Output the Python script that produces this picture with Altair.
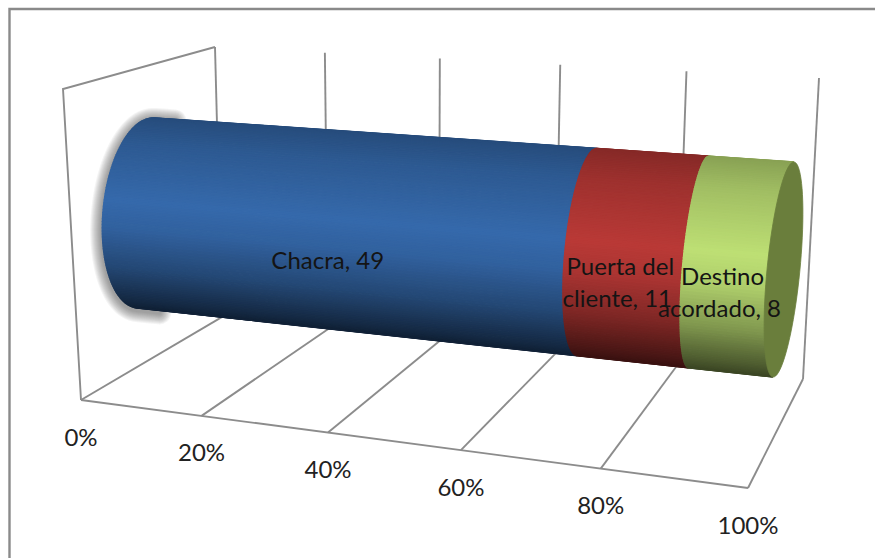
import altair as alt
import numpy as np
import pandas as pd

# Stacked 100% cylinder: category, count and colour of each segment
categories = ["Chacra", "Puerta del cliente", "Destino acordado"]
counts = [49, 11, 8]
label_lines = [["Chacra, 49"], ["Puerta del", "cliente, 11"], ["Destino", "acordado, 8"]]
segment_rgb = [(54, 106, 172), (186, 58, 55), (190, 224, 117)]
cap_rgb = (106, 126, 60)
tick_percents = [0, 20, 40, 60, 80, 100]
tick_labels = ["0%", "20%", "40%", "60%", "80%", "100%"]

W, H = 875, 558
FONT = "Lato"
GRID = "#8c8c8c"
LINE_GAP = 32


def homography(corners):
    """Projective map of the unit square on to a four-cornered floor or wall."""
    src = [(0, 0), (1, 0), (1, 1), (0, 1)]
    a, b = [], []
    for (u, v), (x, y) in zip(src, corners):
        a.append([u, v, 1, 0, 0, 0, -u * x, -v * x])
        a.append([0, 0, 0, u, v, 1, -u * y, -v * y])
        b += [x, y]
    h = np.append(np.linalg.solve(np.array(a, float), np.array(b, float)), 1).reshape(3, 3)

    def project(u, v):
        p = h @ np.array([u, v, 1.0])
        return p[0] / p[2], p[1] / p[2]

    return project


floor = homography([(81, 400), (748, 488), (803, 379), (226, 314.6)])
wall = homography([(222, 317), (803, 379), (819, 78), (215, 47)])

# Frame and box outlines
line_rows = []


def add_line(name, pts):
    for i, (x, y) in enumerate(pts):
        line_rows.append({"id": name, "i": i, "x": x, "y": y})


for p in tick_percents:
    u = p / 100
    add_line(f"floor{p}", [floor(u, 0), floor(u, 1)])
    add_line(f"wall{p}", [wall(u, 0), wall(u, 1)])
add_line("front", [floor(0, 0), floor(1, 0)])
add_line("side", [floor(0, 0), (63, 89), wall(0, 1)])
lines = pd.DataFrame(line_rows)

frame = pd.DataFrame({"id": ["f"] * 3, "i": [0, 1, 2], "x": [9.5, 9.5, W], "y": [H, 9, 9]})

# Cylinder geometry: the far end is foreshortened along its length
LEFT_C, RIGHT_C = np.array([146.0, 213.0]), np.array([783.5, 269.5])
LEFT_M, RIGHT_M = np.array([9.0, -95.0]), np.array([10.5, -107.5])
FORESHORTEN = 0.873


def along(t):
    return t * FORESHORTEN / (1 - t + t * FORESHORTEN)


def section(t):
    s = along(t)
    c = LEFT_C + s * (RIGHT_C - LEFT_C)
    m = LEFT_M + s * (RIGHT_M - LEFT_M)
    depth = np.interp(s, [0, 0.6925, 0.8675, 1], [43, 22.5, 16, 16.4])
    n = np.array([-m[1], m[0]]) / np.hypot(*m)
    n = n * -1 if n[0] > 0 else n  # always the side facing the viewer's left
    return c, m, n * depth


def surface(t, theta):
    c, m, d = section(t)
    return c + m * np.sin(theta) + d * np.cos(theta)


def shade(rgb, frac):
    k = np.interp(frac, [0, 0.15, 0.45, 0.6, 0.8, 0.95, 1], [0.72, 0.85, 1.0, 0.92, 0.68, 0.42, 0.32])
    return "#%02x%02x%02x" % tuple(int(min(255, c * k)) for c in rgb)


total = sum(counts)
edges = np.cumsum([0] + counts) / total
thetas = np.linspace(np.pi / 2, -np.pi / 2, 97)

rows = []
for seg, rgb in enumerate(segment_rgb):
    t0, t1 = edges[seg], edges[seg + 1]
    for j in range(len(thetas) - 1):
        a, b = thetas[j], thetas[j + 1]
        quad = [surface(t0, a), surface(t1, a), surface(t1, b), surface(t0, b), surface(t0, a)]
        color = shade(rgb, 0.5 - np.sin((a + b) / 2) / 2)
        for i, (x, y) in enumerate(quad):
            rows.append({"id": f"{seg}-{j}", "i": i, "x": x, "y": y, "c": color})
strips = pd.DataFrame(rows)

# Open end of the cylinder
cap_rows = []
c, m, d = section(1.0)
for i, th in enumerate(np.linspace(0, 2 * np.pi, 81)):
    x, y = c + m * np.sin(th) + d * np.cos(th)
    cap_rows.append({"id": "cap", "i": i, "x": x, "y": y, "c": "#%02x%02x%02x" % cap_rgb})
cap = pd.DataFrame(cap_rows)

# Soft shadow around the near end, running a little way along both long edges
shadow_path = (
    [surface(t, np.pi / 2) for t in (0.035, 0.02)]
    + [surface(0.0, th) for th in np.linspace(np.pi / 2, -np.pi / 2, 60)]
    + [surface(t, -np.pi / 2) for t in (0.02, 0.04)]
)
shadow = pd.DataFrame(
    [{"id": "s", "i": i, "x": x, "y": y + 2} for i, (x, y) in enumerate(shadow_path)]
)

# Segment labels sit on the front of the cylinder, tick labels below the floor edge
label_nudge = [(7, 6), (0, 0), (1, 0)]
label_rows = []
for k, text_lines in enumerate(label_lines):
    px, py = surface((edges[k] + edges[k + 1]) / 2, -0.28)
    top = py - (len(text_lines) - 1) * LINE_GAP / 2
    for n, line in enumerate(text_lines):
        label_rows.append({
            "x": px - 1 - n * 3 + label_nudge[k][0],
            "y": top + n * LINE_GAP + label_nudge[k][1],
            "t": line,
        })
label_df = pd.DataFrame(label_rows)

tick_df = pd.DataFrame([
    {"x": floor(p / 100, 0)[0], "y": floor(p / 100, 0)[1] + 38.5, "t": t}
    for p, t in zip(tick_percents, tick_labels)
])

X = alt.X("x:Q", scale=alt.Scale(domain=[0, W], range=[0, W]), axis=None)
Y = alt.Y("y:Q", scale=alt.Scale(domain=[0, H], range=[0, H]), axis=None)


def poly_layer(df, width=1.4):
    return alt.Chart(df).mark_line(strokeWidth=width).encode(
        x=X, y=Y, order="i:Q", detail="id:N",
        stroke=alt.Stroke("c:N", scale=None),
        fill=alt.Fill("c:N", scale=None),
    )


def stroke_layer(df, color, width, opacity=1.0, cap_style="butt"):
    return alt.Chart(df).mark_line(
        color=color, strokeWidth=width, opacity=opacity, strokeCap=cap_style
    ).encode(x=X, y=Y, order="i:Q", detail="id:N")


shadow_layers = [stroke_layer(shadow, "#4a4a4a", w, 0.06, "round") for w in range(24, 3, -2)]

chart = alt.layer(
    stroke_layer(frame, "#8a8a8a", 2.4),
    stroke_layer(lines, GRID, 1.9),
    *shadow_layers,
    poly_layer(strips),
    poly_layer(cap, 0.8),
    alt.Chart(label_df).mark_text(
        font=FONT, fontSize=24, color="#141414", baseline="middle"
    ).encode(x=X, y=Y, text="t:N"),
    alt.Chart(tick_df).mark_text(
        font=FONT, fontSize=24, color="#222222", baseline="middle"
    ).encode(x=X, y=Y, text="t:N"),
).properties(
    width=W, height=H, padding=0, autosize=alt.AutoSizeParams(type="none"),
    background="white",
).configure_view(stroke=None)

chart.save("out.html", embed_options={"renderer": "svg", "actions": False})
